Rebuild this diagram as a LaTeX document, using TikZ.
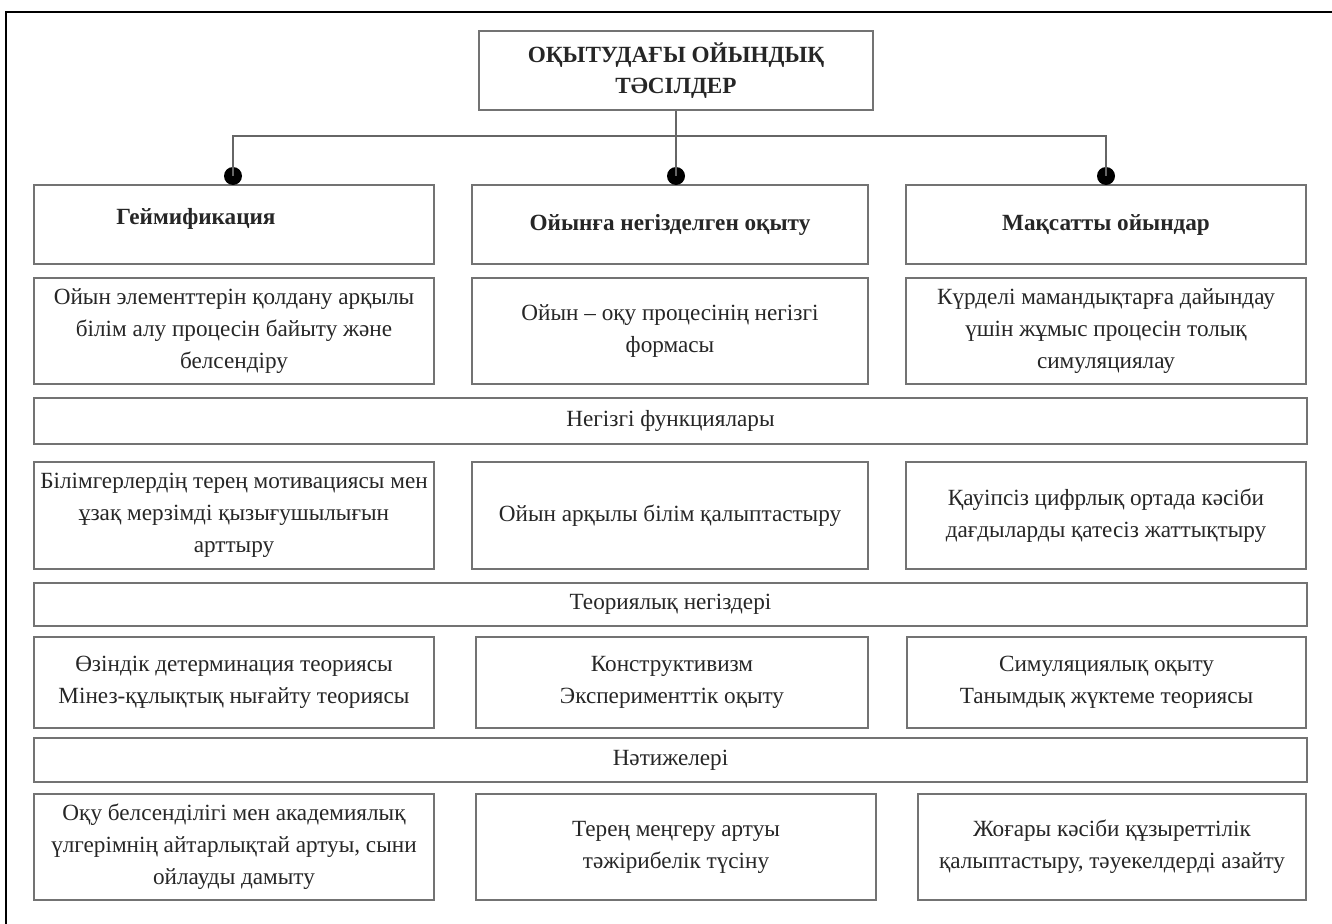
\documentclass[tikz,border=0pt]{standalone}
\usepackage{fontspec}
\setmainfont{Liberation Serif}
\usetikzlibrary{positioning}

\begin{document}
\begin{tikzpicture}
				[x=0.02cm, y=-0.02cm,
				every node/.style={font=\fontsize{13.2}{18.2}\selectfont, text=black!85},
				box/.style={draw=black!55, line width=0.9pt, align=center, minimum width=8cm, inner sep=2pt},
				headbox/.style={box, minimum height=1.58cm, font=\fontsize{13.2}{18.2}\selectfont\bfseries},
				headtext/.style={font=\fontsize{13.2}{18.2}\selectfont\bfseries, inner sep=0pt},
				band/.style={box, minimum width=25.46cm},
				link/.style={draw=black!60, line width=0.9pt},
				dot/.style={circle, fill=black, inner sep=0pt, minimum size=0.36cm}]

				\useasboundingbox (0,0) rectangle (1332,923);
				\begin{scope}
					\clip (0,0) rectangle (1332,923);
					\draw[line width=1.2pt] (6,12) rectangle (1350,945);
				\end{scope}

				\node[box, minimum width=7.88cm, minimum height=1.58cm, font=\fontsize{13.2}{18}\selectfont\bfseries] (title) at (676,70.5) {ОҚЫТУДАҒЫ ОЙЫНДЫҚ\\ТӘСІЛДЕР};

				\node[headbox] (gam) at (234,224.5) {};
				\node[headtext] (gamtext) at (196,219) {Геймификация};
				\node[headbox, minimum width=7.92cm] (gbl) at (670,224.5) {Ойынға негізделген оқыту};
				\node[headbox] (serious) at (1106,224.5) {Мақсатты ойындар};

				\coordinate (bus) at (676,136);
				\node[dot] (d1) at (233,176) {};
				\node[dot] (d2) at (676,176) {};
				\node[dot] (d3) at (1106,176) {};
				\draw[link] (title.south) -- (bus);
				\draw[link] (d1.center) |- (bus) -| (d3.center);
				\draw[link] (bus) -- (d2.center);

				\node[box, minimum height=2.12cm] (gam1) at (234,331) {Ойын элементтерін қолдану арқылы\\білім алу процесін байыту және\\белсендіру};
				\node[box, minimum height=2.12cm, minimum width=7.92cm] (gbl1) at (670,331) {Ойын – оқу процесінің негізгі\\формасы};
				\node[box, minimum height=2.12cm] (serious1) at (1106,331) {Күрделі мамандықтарға дайындау\\үшін жұмыс процесін толық\\симуляциялау};

				\node[band, minimum height=0.92cm] (func) at (670.5,421) {Негізгі функциялары};

				\node[box, minimum height=2.14cm] (gam2) at (234,515.5) {Білімгерлердің терең мотивациясы мен\\ұзақ мерзімді қызығушылығын\\арттыру};
				\node[box, minimum height=2.14cm, minimum width=7.92cm] (gbl2) at (670,515.5) {Ойын арқылы білім қалыптастыру};
				\node[box, minimum height=2.14cm] (serious2) at (1106,515.5) {Қауіпсіз цифрлық ортада кәсіби\\дағдыларды қатесіз жаттықтыру};

				\node[band, minimum height=0.86cm] (theory) at (670.5,604.5) {Теориялық негіздері};

				\node[box, minimum height=1.82cm] (gam3) at (234,682.5) {Өзіндік детерминация теориясы\\Мінез-құлықтық нығайту теориясы};
				\node[box, minimum height=1.82cm, minimum width=7.84cm] (gbl3) at (672,682.5) {Конструктивизм\\Эксперименттік оқыту};
				\node[box, minimum height=1.82cm, minimum width=7.98cm] (serious3) at (1106.5,682.5) {Симуляциялық оқыту\\Танымдық жүктеме теориясы};

				\node[band, minimum height=0.88cm] (result) at (670.5,760) {Нәтижелері};

				\node[box, minimum height=2.12cm] (gam4) at (234,847) {Оқу белсенділігі мен академиялық\\үлгерімнің айтарлықтай артуы, сыни\\ойлауды дамыту};
				\node[box, minimum height=2.12cm] (gbl4) at (676,847) {Терең меңгеру артуы\\тәжірибелік түсіну};
				\node[box, minimum height=2.12cm, minimum width=7.76cm] (serious4) at (1112,847) {Жоғары кәсіби құзыреттілік\\қалыптастыру, тәуекелдерді азайту};
			\end{tikzpicture}
\end{document}
